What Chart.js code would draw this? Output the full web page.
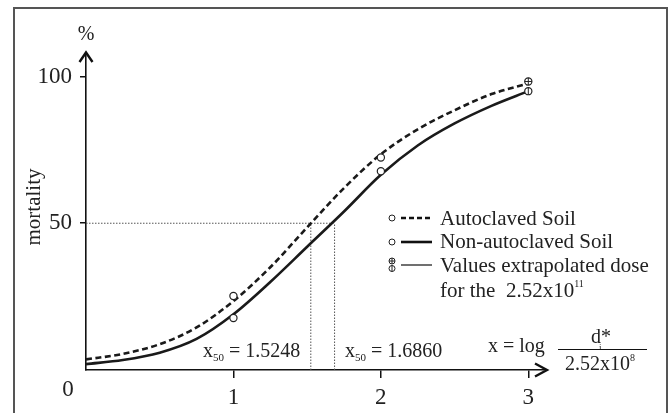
<!DOCTYPE html>
<html>
<head>
<meta charset="utf-8">
<script src="https://cdn.jsdelivr.net/npm/chart.js@4/dist/chart.umd.min.js"></script>
<style>
  html, body { margin: 0; padding: 0; background: #fff; }
</style>
</head>
<body>
<canvas id="mortalityChart" width="671" height="413"></canvas>
<script>
// dose axis: x = log(d*/2.52x10^8)
var doses = [0, 0.25, 0.5, 0.75, 1, 1.25, 1.5, 1.75, 2, 2.25, 2.5, 2.75, 3];
// fitted curves (% mortality)
var autoclavedCurve    = [3.6, 5.5, 8.8, 14.5, 23.5, 35, 48.6, 62, 73.5, 82, 88.5, 94, 97.6];
var nonAutoclavedCurve = [2.0, 3.4, 5.9, 10.6, 19, 30, 42, 54, 66.5, 76.5, 84, 90, 95];
// observed points
var measuredDoses = [1, 2];
var autoclavedMeasured = [25.2, 72.4];
var nonAutoclavedMeasured = [17.7, 67.7];
// extrapolated dose 2.52x10^11
var extrapolatedDose = [3];
var autoclavedExtrapolated = [98.3];
var nonAutoclavedExtrapolated = [95];
// x50 values
var x50Autoclaved = 1.5248;
var x50NonAutoclaved = 1.6860;
// tick labels
var xTicks = [1, 2, 3];
var yTicks = [50, 100];

var serif = '"Liberation Serif", "Times New Roman", serif';
Chart.defaults.font.family = serif;
Chart.defaults.color = '#222';

function pts(xs, ys) {
    return xs.map(function(x, i) { return { x: x, y: ys[i] }; });
}

var circleStyle = {
    showLine: false, pointStyle: 'circle', pointRadius: 3.6,
    pointBackgroundColor: '#fff', pointBorderColor: '#222', pointBorderWidth: 1.2
};
var guideStyle = {
    showLine: true, borderColor: '#555', borderWidth: 1, borderDash: [1.5, 1.5], pointRadius: 0
};

// earlier datasets are painted on top
var datasets = [
    { label: 'cross', data: pts(extrapolatedDose, autoclavedExtrapolated), showLine: false,
      pointStyle: 'cross', pointRadius: 3.6, pointBorderColor: '#222', pointBorderWidth: 1 },
    { label: 'bar', data: pts(extrapolatedDose, nonAutoclavedExtrapolated), showLine: false,
      pointStyle: 'line', rotation: 90, pointRadius: 3.6, pointBorderColor: '#222', pointBorderWidth: 1 },
    Object.assign({ label: 'Autoclaved measured', data: pts(measuredDoses, autoclavedMeasured) }, circleStyle),
    Object.assign({ label: 'Non-autoclaved measured', data: pts(measuredDoses, nonAutoclavedMeasured) }, circleStyle),
    Object.assign({ label: 'Autoclaved extrapolated', data: pts(extrapolatedDose, autoclavedExtrapolated) }, circleStyle),
    Object.assign({ label: 'Non-autoclaved extrapolated', data: pts(extrapolatedDose, nonAutoclavedExtrapolated) }, circleStyle),
    { label: 'Autoclaved Soil', data: pts(doses, autoclavedCurve), showLine: true, borderColor: '#1a1a1a',
      borderWidth: 2.6, borderDash: [6, 3.5], pointRadius: 0, cubicInterpolationMode: 'monotone' },
    { label: 'Non-autoclaved Soil', data: pts(doses, nonAutoclavedCurve), showLine: true, borderColor: '#1a1a1a',
      borderWidth: 2.6, pointRadius: 0, cubicInterpolationMode: 'monotone' },
    // dotted guides at 50 %
    Object.assign({ label: 'g1', data: [{ x: 0, y: 50 }, { x: x50NonAutoclaved, y: 50 }] }, guideStyle),
    Object.assign({ label: 'g2', data: [{ x: x50Autoclaved, y: 0 }, { x: x50Autoclaved, y: 50 }] }, guideStyle),
    Object.assign({ label: 'g3', data: [{ x: x50NonAutoclaved, y: 0 }, { x: x50NonAutoclaved, y: 50 }] }, guideStyle)
];

function subText(ctx, x, y, parts) {
    // parts: [text, size, dy]
    parts.forEach(function(p) {
        ctx.font = p[1] + 'px ' + serif;
        ctx.fillText(p[0], x, y + (p[2] || 0));
        x += ctx.measureText(p[0]).width;
    });
    return x;
}

var decor = {
    id: 'decor',
    beforeDraw: function(chart) {
        var ctx = chart.ctx;
        ctx.save();
        ctx.strokeStyle = '#555';
        ctx.lineWidth = 2;
        ctx.strokeRect(14, 8, 653, 430);
        ctx.restore();
    },
    afterDraw: function(chart) {
        var ctx = chart.ctx, a = chart.chartArea;
        ctx.save();
        ctx.strokeStyle = '#111';
        ctx.fillStyle = '#222';
        ctx.lineWidth = 2.4;
        ctx.lineJoin = 'miter';
        // arrow heads
        ctx.beginPath();
        ctx.moveTo(a.left - 6.5, a.top + 9);
        ctx.lineTo(a.left, a.top - 0.5);
        ctx.lineTo(a.left + 6.5, a.top + 9);
        ctx.stroke();
        ctx.beginPath();
        ctx.moveTo(a.right - 11, a.bottom - 6.5);
        ctx.lineTo(a.right + 1, a.bottom);
        ctx.lineTo(a.right - 11, a.bottom + 6.5);
        ctx.stroke();

        ctx.textBaseline = 'alphabetic';
        // axis titles
        ctx.font = '20px ' + serif;
        ctx.textAlign = 'center';
        ctx.fillText('%', a.left, 40);
        ctx.font = '23px ' + serif;
        ctx.fillText('0', 68, 396);
        ctx.save();
        ctx.translate(40, 207);
        ctx.rotate(-Math.PI / 2);
        ctx.font = '21px ' + serif;
        ctx.fillText('mortality', 0, 0);
        ctx.restore();

        ctx.textAlign = 'left';
        subText(ctx, 203, 357, [['x', 20], ['50', 11, 4], [' = ' + x50Autoclaved.toFixed(4), 20]]);
        subText(ctx, 345, 357, [['x', 20], ['50', 11, 4], [' = ' + x50NonAutoclaved.toFixed(4), 20]]);
        subText(ctx, 488, 352, [['x = log', 20]]);
        // fraction
        subText(ctx, 591, 343, [['d*', 20]]);
        ctx.font = '9px ' + serif;
        ctx.fillText('i', 599, 350);
        ctx.lineWidth = 1;
        ctx.beginPath();
        ctx.moveTo(558, 349.5);
        ctx.lineTo(647, 349.5);
        ctx.stroke();
        subText(ctx, 565, 370, [['2.52x10', 20], ['8', 10, -9]]);

        // legend
        var lx = 392;
        ctx.lineWidth = 1;
        function circ(x, y, r) {
            ctx.beginPath();
            ctx.arc(x, y, r, 0, Math.PI * 2);
            ctx.fillStyle = '#fff';
            ctx.fill();
            ctx.stroke();
        }
        ctx.strokeStyle = '#222';
        circ(lx, 218, 3);
        circ(lx, 242, 3);
        circ(lx, 261, 3);
        circ(lx, 268.5, 3);
        ctx.beginPath();
        ctx.moveTo(lx - 3, 261); ctx.lineTo(lx + 3, 261);
        ctx.moveTo(lx, 258); ctx.lineTo(lx, 264);
        ctx.moveTo(lx, 265.5); ctx.lineTo(lx, 271.5);
        ctx.stroke();

        ctx.strokeStyle = '#111';
        ctx.lineWidth = 2.6;
        ctx.setLineDash([5, 3]);
        ctx.beginPath(); ctx.moveTo(401, 218); ctx.lineTo(432, 218); ctx.stroke();
        ctx.setLineDash([]);
        ctx.beginPath(); ctx.moveTo(401, 242); ctx.lineTo(432, 242); ctx.stroke();
        ctx.lineWidth = 1.2;
        ctx.beginPath(); ctx.moveTo(401, 265); ctx.lineTo(432, 265); ctx.stroke();

        ctx.fillStyle = '#222';
        subText(ctx, 440, 225, [['Autoclaved Soil', 21]]);
        subText(ctx, 440, 248, [['Non-autoclaved Soil', 21]]);
        subText(ctx, 440, 272, [['Values extrapolated dose', 21]]);
        subText(ctx, 440, 297, [['for the  2.52x10', 21], ['11', 10, -10]]);
        ctx.restore();
    }
};

new Chart(document.getElementById('mortalityChart').getContext('2d'), {
    type: 'scatter',
    data: { datasets: datasets },
    options: {
        responsive: false,
        animation: false,
        layout: { padding: { left: 0, top: 53, right: 125, bottom: 0 } },
        plugins: { legend: { display: false }, tooltip: { enabled: false } },
        scales: {
            x: {
                type: 'linear', min: 0, max: 3.12,
                afterFit: function(s) { s.height = 43; },
                afterBuildTicks: function(s) { s.ticks = xTicks.map(function(v) { return { value: v }; }); },
                grid: { drawOnChartArea: false, color: '#111', lineWidth: 1.5, tickLength: 8 },
                border: { color: '#111', width: 1.6 },
                ticks: { font: { size: 23 }, color: '#222', padding: 6 }
            },
            y: {
                type: 'linear', min: 0, max: 108,
                afterFit: function(s) { s.width = 86; },
                afterBuildTicks: function(s) { s.ticks = yTicks.map(function(v) { return { value: v }; }); },
                grid: { drawOnChartArea: false, color: '#111', lineWidth: 1.5, tickLength: 6 },
                border: { color: '#111', width: 1.6 },
                ticks: { font: { size: 23 }, color: '#222', padding: 8 }
            }
        }
    },
    plugins: [decor]
});
</script>
</body>
</html>
